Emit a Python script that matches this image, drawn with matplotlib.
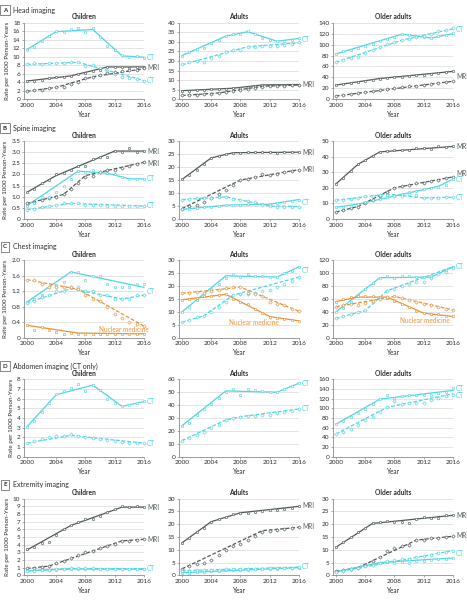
import matplotlib
matplotlib.use('Agg')
import matplotlib.pyplot as plt
import numpy as np

plt.rcParams['font.family'] = ['Lato', 'DejaVu Sans']

YEARS = list(range(2000, 2017))

# ---------------- A: Head imaging ----------------
HEAD_CH_CT_S = [11.7, 12.3, 13.8, 14.9, 16.0, 15.9, 16.5, 16.8, 15.7, 16.7, 14.6, 12.6, 11.6, 10.3, 10.0, 10.1, 9.8]
HEAD_CH_CT_S_FIT = ([2000, 2004, 2009, 2013, 2016], [11.7, 15.9, 16.4, 10.2, 9.9])
HEAD_CH_CT_D = [8.3, 8.6, 8.4, 8.5, 8.6, 8.6, 8.8, 8.8, 7.8, 8.0, 7.3, 6.6, 6.0, 5.2, 5.0, 4.8, 4.3]
HEAD_CH_CT_D_FIT = ([2000, 2007, 2016], [8.2, 8.7, 4.4])
HEAD_CH_MRI_S = [4.3, 4.3, 4.6, 4.9, 5.2, 5.3, 5.5, 5.9, 6.2, 6.7, 7.0, 7.6, 7.6, 7.6, 7.4, 7.5, 7.6]
HEAD_CH_MRI_S_FIT = ([2000, 2006, 2011, 2016], [4.3, 5.5, 7.6, 7.6])
HEAD_CH_MRI_D = [1.9, 2.1, 2.3, 2.6, 2.8, 2.9, 3.5, 4.0, 4.9, 5.3, 5.7, 6.1, 6.4, 6.7, 7.0, 7.0, 7.3]
HEAD_CH_MRI_D_FIT = ([2000, 2004, 2009, 2016], [1.9, 2.8, 5.3, 7.2])

HEAD_AD_CT_S = [22.8, 24.5, 26.5, 27.0, 29.5, 31.0, 33.3, 34.3, 34.0, 35.5, 34.0, 32.0, 31.0, 30.3, 30.5, 31.0, 32.0]
HEAD_AD_CT_S_FIT = ([2000, 2006, 2009, 2013, 2016], [22.8, 33.0, 35.3, 30.3, 31.8])
HEAD_AD_CT_D = [18.2, 19.3, 19.8, 19.5, 21.5, 22.5, 24.5, 25.5, 26.0, 27.5, 27.5, 27.8, 28.0, 28.0, 28.5, 29.0, 29.7]
HEAD_AD_CT_D_FIT = ([2000, 2009, 2016], [18.0, 27.5, 29.5])
HEAD_AD_MRI_S = [4.5, 4.5, 4.8, 5.0, 5.2, 5.3, 5.5, 5.7, 6.0, 6.5, 7.0, 7.5, 7.5, 7.5, 7.5, 7.5, 7.7]
HEAD_AD_MRI_S_FIT = ([2000, 2007, 2011, 2016], [4.5, 5.8, 7.5, 7.7])
HEAD_AD_MRI_D = [2.0, 2.2, 2.5, 2.8, 3.0, 3.2, 3.6, 4.3, 5.0, 5.5, 6.0, 6.5, 6.8, 7.0, 7.2, 7.3, 7.5]
HEAD_AD_MRI_D_FIT = ([2000, 2005, 2011, 2016], [2.0, 3.3, 6.8, 7.5])

HEAD_OA_CT_S = [83, 88, 90, 94, 98, 101, 106, 110, 113, 119, 118, 116, 113, 112, 116, 118, 121]
HEAD_OA_CT_S_FIT = ([2000, 2009, 2013, 2016], [83, 119, 112, 120])
HEAD_OA_CT_D = [68, 72, 75, 78, 85, 90, 96, 101, 104, 108, 111, 114, 116, 119, 124, 126, 130]
HEAD_OA_CT_D_FIT = ([2000, 2009, 2016], [68, 108, 129])
HEAD_OA_MRI_S = [26, 28, 30, 31, 34, 36, 38, 39, 40, 41, 43, 44, 45, 47, 48, 49, 51]
HEAD_OA_MRI_S_FIT = ([2000, 2006, 2016], [26, 38, 51])
HEAD_OA_MRI_D = [6, 7, 9, 11, 13, 15, 17, 18, 21, 22, 24, 25, 26, 28, 30, 31, 33]
HEAD_OA_MRI_D_FIT = ([2000, 2016], [6, 33])

# ---------------- B: Spine imaging ----------------
SPINE_CH_MRI_S = [1.2, 1.35, 1.6, 1.75, 2.0, 2.05, 2.2, 2.4, 2.4, 2.7, 2.8, 2.8, 3.05, 3.0, 3.2, 3.0, 3.05]
SPINE_CH_MRI_S_FIT = ([2000, 2004, 2012, 2016], [1.2, 1.95, 3.05, 3.05])
SPINE_CH_MRI_D = [0.7, 0.75, 0.85, 0.95, 1.0, 1.1, 1.35, 1.6, 1.9, 1.95, 2.1, 2.2, 2.2, 2.3, 2.4, 2.45, 2.55]
SPINE_CH_MRI_D_FIT = ([2000, 2005, 2008, 2016], [0.7, 1.1, 1.95, 2.55])
SPINE_CH_CT_S = [0.6, 0.7, 1.0, 1.0, 1.2, 1.5, 1.8, 2.15, 2.1, 2.2, 2.1, 2.05, 2.0, 1.9, 1.8, 1.8, 1.8]
SPINE_CH_CT_S_FIT = ([2000, 2007, 2011, 2014, 2016], [0.6, 2.15, 2.05, 1.8, 1.8])
SPINE_CH_CT_D = [0.42, 0.45, 0.55, 0.6, 0.62, 0.7, 0.7, 0.72, 0.65, 0.65, 0.62, 0.6, 0.6, 0.6, 0.6, 0.6, 0.58]
SPINE_CH_CT_D_FIT = ([2000, 2006, 2016], [0.42, 0.7, 0.58])

SPINE_AD_MRI_S = [15.2, 17.0, 19.0, 21.0, 23.5, 24.3, 25.0, 25.5, 25.5, 25.6, 25.6, 25.7, 25.6, 25.4, 25.6, 25.6, 25.8]
SPINE_AD_MRI_S_FIT = ([2000, 2004, 2007, 2016], [15.2, 23.5, 25.5, 25.7])
SPINE_AD_MRI_D = [4.0, 5.0, 5.5, 6.5, 8.0, 9.5, 11.0, 13.0, 15.0, 15.5, 16.2, 17.5, 16.8, 17.5, 18.0, 18.5, 19.0]
SPINE_AD_MRI_D_FIT = ([2000, 2008, 2016], [4.0, 15.0, 19.0])
SPINE_AD_CT_S = [3.7, 4.0, 4.3, 4.5, 4.8, 5.0, 5.3, 5.5, 5.5, 5.8, 6.0, 5.8, 5.7, 6.0, 6.5, 7.0, 7.5]
SPINE_AD_CT_S_FIT = ([2000, 2006, 2012, 2016], [3.7, 5.3, 5.7, 7.5])
SPINE_AD_CT_D = [7.5, 7.8, 8.0, 8.0, 8.2, 8.3, 8.5, 7.8, 7.5, 7.0, 6.5, 5.5, 5.0, 4.8, 4.8, 4.8, 4.8]
SPINE_AD_CT_D_FIT = ([2000, 2006, 2012, 2016], [7.5, 8.5, 5.0, 4.8])

SPINE_OA_MRI_S = [22.5, 26.0, 30.5, 35.0, 38.0, 40.5, 43.0, 43.5, 44.0, 44.5, 44.0, 45.5, 45.5, 45.0, 46.5, 46.0, 46.5]
SPINE_OA_MRI_S_FIT = ([2000, 2003, 2006, 2016], [22.5, 35.0, 43.0, 46.5])
SPINE_OA_MRI_D = [4.5, 5.5, 7.0, 8.0, 10.0, 12.5, 15.0, 17.0, 20.0, 21.0, 22.0, 23.0, 23.0, 24.5, 25.0, 26.0, 27.0]
SPINE_OA_MRI_D_FIT = ([2000, 2003, 2008, 2016], [4.5, 8.0, 20.0, 27.0])
SPINE_OA_CT_S = [7.5, 8.0, 8.5, 9.5, 11.0, 12.0, 13.0, 14.0, 15.0, 16.0, 17.0, 18.0, 19.0, 20.0, 20.5, 22.0, 25.5]
SPINE_OA_CT_S_FIT = ([2000, 2003, 2014, 2016], [7.5, 9.5, 21.0, 25.5])
SPINE_OA_CT_D = [12.0, 12.5, 13.0, 13.5, 14.5, 15.0, 15.5, 15.5, 15.0, 15.0, 16.0, 15.5, 13.5, 13.5, 13.5, 14.0, 14.0]
SPINE_OA_CT_D_FIT = ([2000, 2007, 2012, 2016], [12.0, 16.0, 13.5, 14.0])

# ---------------- C: Chest imaging ----------------
CHEST_CH_CT_S = [0.93, 1.0, 1.1, 1.3, 1.35, 1.45, 1.7, 1.7, 1.5, 1.6, 1.6, 1.4, 1.3, 1.3, 1.3, 1.4, 1.4]
CHEST_CH_CT_S_FIT = ([2000, 2006, 2016], [0.92, 1.7, 1.3])
CHEST_CH_CT_D = [0.9, 0.95, 1.05, 1.1, 1.2, 1.2, 1.3, 1.3, 1.2, 1.2, 1.1, 1.1, 1.0, 1.0, 1.0, 1.1, 1.1]
CHEST_CH_CT_D_FIT = ([2000, 2006, 2013, 2016], [0.9, 1.27, 1.0, 1.1])
CHEST_CH_NM_S = [0.32, 0.2, 0.28, 0.2, 0.15, 0.1, 0.12, 0.1, 0.1, 0.1, 0.1, 0.1, 0.1, 0.1, 0.1, 0.1, 0.1]
CHEST_CH_NM_S_FIT = ([2000, 2007, 2016], [0.32, 0.12, 0.1])
CHEST_CH_NM_D = [1.5, 1.5, 1.4, 1.3, 1.3, 1.3, 1.3, 1.25, 1.1, 1.0, 0.95, 0.8, 0.6, 0.5, 0.4, 0.35, 0.3]
CHEST_CH_NM_D_FIT = ([2000, 2007, 2016], [1.5, 1.25, 0.3])

CHEST_AD_CT_S = [10.0, 12.0, 14.5, 17.5, 19.0, 21.0, 23.0, 24.5, 23.5, 24.5, 24.0, 24.0, 23.5, 23.5, 25.0, 26.0, 27.5]
CHEST_AD_CT_S_FIT = ([2000, 2006, 2013, 2016], [10.0, 24.0, 23.5, 27.5])
CHEST_AD_CT_D = [6.0, 7.0, 8.0, 8.5, 10.0, 12.0, 14.0, 16.5, 17.0, 17.0, 17.5, 18.0, 18.5, 19.5, 21.0, 22.0, 23.5]
CHEST_AD_CT_D_FIT = ([2000, 2003, 2007, 2016], [6.0, 8.5, 16.5, 23.5])
CHEST_AD_NM_D = [17.2, 17.5, 17.8, 17.5, 18.0, 18.5, 19.3, 19.5, 19.6, 17.5, 17.0, 16.0, 14.0, 13.0, 12.5, 11.0, 10.2]
CHEST_AD_NM_D_FIT = ([2000, 2008, 2016], [17.2, 19.6, 10.2])
CHEST_AD_NM_S = [14.7, 15.0, 15.5, 16.0, 16.2, 16.5, 16.8, 15.0, 14.0, 13.0, 11.0, 9.5, 8.2, 7.8, 7.2, 7.0, 6.5]
CHEST_AD_NM_S_FIT = ([2000, 2006, 2012, 2016], [14.7, 16.8, 8.2, 6.5])

CHEST_OA_CT_S = [40, 46, 55, 66, 75, 85, 93, 95, 92, 95, 95, 94, 94, 95, 100, 105, 110]
CHEST_OA_CT_S_FIT = ([2000, 2006, 2013, 2016], [40, 93, 94, 110])
CHEST_OA_CT_D = [30, 33, 37, 40, 43, 55, 62, 73, 76, 80, 84, 86, 87, 93, 98, 102, 108]
CHEST_OA_CT_D_FIT = ([2000, 2004, 2007, 2016], [30, 42, 73, 110])
CHEST_OA_NM_S = [56, 60, 63, 64, 64, 64, 63, 62, 57, 52, 47, 42, 38, 37, 36, 34, 33]
CHEST_OA_NM_S_FIT = ([2000, 2003, 2007, 2012, 2016], [56, 63, 63, 38, 33])
CHEST_OA_NM_D = [48, 50, 52, 51, 54, 57, 60, 63, 65, 61, 59, 56, 52, 50, 48, 45, 43]
CHEST_OA_NM_D_FIT = ([2000, 2008, 2016], [48, 64, 43])

# ---------------- D: Abdomen imaging (CT only) ----------------
ABD_CH_CT_S = [3.1, 3.7, 4.6, 5.5, 6.5, 6.8, 7.1, 7.5, 6.8, 7.4, 6.9, 6.0, 5.6, 5.2, 5.3, 5.6, 5.8]
ABD_CH_CT_S_FIT = ([2000, 2004, 2009, 2013, 2016], [3.1, 6.4, 7.4, 5.2, 5.7])
ABD_CH_CT_D = [1.4, 1.6, 1.8, 2.0, 2.1, 2.1, 2.3, 2.1, 2.0, 1.9, 1.8, 1.7, 1.6, 1.5, 1.4, 1.4, 1.4]
ABD_CH_CT_D_FIT = ([2000, 2006, 2016], [1.4, 2.2, 1.4])

ABD_AD_CT_S = [23.5, 26.5, 32.0, 37.0, 41.0, 45.5, 50.5, 52.5, 47.5, 52.5, 51.5, 51.0, 50.5, 50.0, 52.5, 54.5, 57.0]
ABD_AD_CT_S_FIT = ([2000, 2006, 2013, 2016], [24.0, 51.0, 50.0, 57.0])
ABD_AD_CT_D = [12.5, 14.5, 17.0, 19.0, 22.0, 24.5, 28.5, 30.0, 30.5, 31.5, 31.5, 32.0, 32.0, 33.5, 34.5, 35.5, 37.0]
ABD_AD_CT_D_FIT = ([2000, 2006, 2008, 2016], [12.5, 28.5, 31.0, 37.0])

ABD_OA_CT_S = [67, 73, 82, 90, 98, 108, 119, 127, 122, 125, 127, 127, 128, 128, 131, 134, 142]
ABD_OA_CT_S_FIT = ([2000, 2006, 2016], [67, 119, 137])
ABD_OA_CT_D = [47, 52, 58, 65, 76, 83, 93, 102, 115, 109, 110, 112, 112, 118, 122, 125, 128]
ABD_OA_CT_D_FIT = ([2000, 2007, 2016], [47, 102, 130])

# ---------------- E: Extremity imaging ----------------
EXT_CH_MRI_S = [3.4, 3.7, 4.2, 4.4, 5.2, 6.0, 6.6, 6.9, 7.3, 7.4, 7.7, 8.2, 8.7, 9.0, 8.9, 9.0, 8.9]
EXT_CH_MRI_S_FIT = ([2000, 2006, 2013, 2016], [3.3, 6.5, 8.9, 8.9])
EXT_CH_MRI_D = [0.9, 1.0, 1.1, 1.2, 1.6, 1.9, 2.3, 2.7, 3.0, 3.2, 3.5, 3.8, 4.1, 4.5, 4.5, 4.6, 4.7]
EXT_CH_MRI_D_FIT = ([2000, 2003, 2013, 2016], [0.9, 1.2, 4.5, 4.7])
EXT_CH_CT_S = [0.6, 0.65, 0.7, 0.7, 0.75, 0.8, 0.85, 0.85, 0.8, 0.8, 0.8, 0.8, 0.8, 0.8, 0.8, 0.8, 0.8]
EXT_CH_CT_S_FIT = ([2000, 2006, 2016], [0.6, 0.82, 0.8])
EXT_CH_CT_D = [0.55, 0.6, 0.65, 0.75, 0.8, 0.85, 0.9, 0.9, 0.9, 0.9, 0.85, 0.85, 0.85, 0.85, 0.85, 0.85, 0.85]
EXT_CH_CT_D_FIT = ([2000, 2006, 2016], [0.55, 0.9, 0.85])

EXT_AD_MRI_S = [12.7, 14.5, 17.0, 18.5, 21.0, 22.0, 23.0, 24.2, 24.5, 24.5, 24.8, 25.2, 25.5, 25.5, 25.8, 26.5, 27.2]
EXT_AD_MRI_S_FIT = ([2000, 2004, 2008, 2016], [12.7, 21.0, 24.5, 27.0])
EXT_AD_MRI_D = [2.5, 3.5, 4.5, 4.8, 6.0, 8.0, 10.0, 11.5, 12.2, 13.8, 15.5, 17.0, 17.5, 17.8, 18.0, 18.5, 18.8]
EXT_AD_MRI_D_FIT = ([2000, 2011, 2016], [2.5, 17.5, 18.8])
EXT_AD_CT_S = [1.0, 1.0, 1.2, 1.4, 1.5, 1.7, 1.9, 2.0, 2.1, 2.2, 2.3, 2.4, 2.5, 2.6, 2.7, 2.8, 3.0]
EXT_AD_CT_S_FIT = ([2000, 2016], [1.0, 3.0])
EXT_AD_CT_D = [1.8, 1.8, 1.9, 2.0, 2.1, 2.2, 2.3, 2.4, 2.4, 2.5, 2.6, 2.6, 2.7, 2.8, 2.9, 3.0, 3.2]
EXT_AD_CT_D_FIT = ([2000, 2016], [1.8, 3.2])

EXT_OA_MRI_S = [11.0, 13.0, 15.0, 17.0, 18.5, 20.3, 20.8, 21.2, 21.0, 21.0, 20.5, 22.0, 23.0, 22.5, 22.5, 23.5, 23.8]
EXT_OA_MRI_S_FIT = ([2000, 2005, 2016], [11.0, 20.3, 23.5])
EXT_OA_MRI_D = [1.5, 2.0, 2.5, 3.0, 4.0, 5.5, 7.0, 9.5, 10.5, 11.5, 12.0, 13.8, 14.0, 14.5, 14.8, 15.0, 15.3]
EXT_OA_MRI_D_FIT = ([2000, 2003, 2011, 2016], [1.5, 3.0, 13.8, 15.3])
EXT_OA_CT_D = [1.2, 1.8, 2.5, 3.0, 3.5, 4.2, 5.0, 5.5, 5.8, 6.2, 6.5, 7.0, 7.5, 8.0, 8.8, 9.2, 9.7]
EXT_OA_CT_D_FIT = ([2000, 2016], [1.2, 9.7])
EXT_OA_CT_S = [1.3, 2.0, 2.5, 3.0, 3.8, 4.3, 5.0, 5.2, 5.0, 5.2, 5.0, 5.5, 5.5, 5.8, 6.2, 6.5, 6.8]
EXT_OA_CT_S_FIT = ([2000, 2006, 2016], [1.3, 5.0, 6.8])

ROW_TITLES = ['Head imaging', 'Spine imaging', 'Chest imaging',
              'Abdomen imaging (CT only)', 'Extremity imaging']
ROW_LETTERS = ['A', 'B', 'C', 'D', 'E']
COL_TITLES = ['Children', 'Adults', 'Older adults']

COLORS = {'CT': '#4fd5e3', 'MRI': '#4f5b59', 'NM': '#e8923a'}

# panel config: (row, col, ymax, ystep, decimals, series, end labels, nuclear label pos)
PANELS = [
    (0, 0, 18, 2, 0,
     [(HEAD_CH_CT_S, HEAD_CH_CT_S_FIT, 'CT', '-'), (HEAD_CH_CT_D, HEAD_CH_CT_D_FIT, 'CT', '--'),
      (HEAD_CH_MRI_S, HEAD_CH_MRI_S_FIT, 'MRI', '-'), (HEAD_CH_MRI_D, HEAD_CH_MRI_D_FIT, 'MRI', '--')],
     [('CT', 9.9, 'CT'), ('MRI', 7.4, 'MRI'), ('CT', 4.4, 'CT')], None),
    (0, 1, 40, 5, 0,
     [(HEAD_AD_CT_S, HEAD_AD_CT_S_FIT, 'CT', '-'), (HEAD_AD_CT_D, HEAD_AD_CT_D_FIT, 'CT', '--'),
      (HEAD_AD_MRI_S, HEAD_AD_MRI_S_FIT, 'MRI', '-'), (HEAD_AD_MRI_D, HEAD_AD_MRI_D_FIT, 'MRI', '--')],
     [('CT', 31.0, 'CT'), ('MRI', 7.8, 'MRI')], None),
    (0, 2, 140, 20, 0,
     [(HEAD_OA_CT_S, HEAD_OA_CT_S_FIT, 'CT', '-'), (HEAD_OA_CT_D, HEAD_OA_CT_D_FIT, 'CT', '--'),
      (HEAD_OA_MRI_S, HEAD_OA_MRI_S_FIT, 'MRI', '-'), (HEAD_OA_MRI_D, HEAD_OA_MRI_D_FIT, 'MRI', '--')],
     [('CT', 128, 'CT'), ('MRI', 41, 'MRI')], None),
    (1, 0, 3.5, 0.5, 1,
     [(SPINE_CH_MRI_S, SPINE_CH_MRI_S_FIT, 'MRI', '-'), (SPINE_CH_MRI_D, SPINE_CH_MRI_D_FIT, 'MRI', '--'),
      (SPINE_CH_CT_S, SPINE_CH_CT_S_FIT, 'CT', '-'), (SPINE_CH_CT_D, SPINE_CH_CT_D_FIT, 'CT', '--')],
     [('MRI', 3.05, 'MRI'), ('MRI', 2.5, 'MRI'), ('CT', 1.8, 'CT'), ('CT', 0.6, 'CT')], None),
    (1, 1, 30, 5, 0,
     [(SPINE_AD_MRI_S, SPINE_AD_MRI_S_FIT, 'MRI', '-'), (SPINE_AD_MRI_D, SPINE_AD_MRI_D_FIT, 'MRI', '--'),
      (SPINE_AD_CT_S, SPINE_AD_CT_S_FIT, 'CT', '-'), (SPINE_AD_CT_D, SPINE_AD_CT_D_FIT, 'CT', '--')],
     [('MRI', 25.7, 'MRI'), ('MRI', 19.0, 'MRI'), ('CT', 6.2, 'CT')], None),
    (1, 2, 50, 10, 0,
     [(SPINE_OA_MRI_S, SPINE_OA_MRI_S_FIT, 'MRI', '-'), (SPINE_OA_MRI_D, SPINE_OA_MRI_D_FIT, 'MRI', '--'),
      (SPINE_OA_CT_S, SPINE_OA_CT_S_FIT, 'CT', '-'), (SPINE_OA_CT_D, SPINE_OA_CT_D_FIT, 'CT', '--')],
     [('MRI', 46.5, 'MRI'), ('MRI', 29.0, 'MRI'), ('CT', 25.0, 'CT'), ('CT', 14.0, 'CT')], None),
    (2, 0, 2.0, 0.4, 1,
     [(CHEST_CH_CT_S, CHEST_CH_CT_S_FIT, 'CT', '-'), (CHEST_CH_CT_D, CHEST_CH_CT_D_FIT, 'CT', '--'),
      (CHEST_CH_NM_S, CHEST_CH_NM_S_FIT, 'NM', '-'), (CHEST_CH_NM_D, CHEST_CH_NM_D_FIT, 'NM', '--')],
     [('CT', 1.2, 'CT')], (2009.8, 0.22)),
    (2, 1, 30, 5, 0,
     [(CHEST_AD_CT_S, CHEST_AD_CT_S_FIT, 'CT', '-'), (CHEST_AD_CT_D, CHEST_AD_CT_D_FIT, 'CT', '--'),
      (CHEST_AD_NM_S, CHEST_AD_NM_S_FIT, 'NM', '-'), (CHEST_AD_NM_D, CHEST_AD_NM_D_FIT, 'NM', '--')],
     [('CT', 26.0, 'CT')], (2006.5, 6.0)),
    (2, 2, 120, 20, 0,
     [(CHEST_OA_CT_S, CHEST_OA_CT_S_FIT, 'CT', '-'), (CHEST_OA_CT_D, CHEST_OA_CT_D_FIT, 'CT', '--'),
      (CHEST_OA_NM_S, CHEST_OA_NM_S_FIT, 'NM', '-'), (CHEST_OA_NM_D, CHEST_OA_NM_D_FIT, 'NM', '--')],
     [('CT', 110, 'CT')], (2008.7, 27)),
    (3, 0, 8, 1, 0,
     [(ABD_CH_CT_S, ABD_CH_CT_S_FIT, 'CT', '-'), (ABD_CH_CT_D, ABD_CH_CT_D_FIT, 'CT', '--')],
     [('CT', 5.7, 'CT'), ('CT', 1.4, 'CT')], None),
    (3, 1, 60, 10, 0,
     [(ABD_AD_CT_S, ABD_AD_CT_S_FIT, 'CT', '-'), (ABD_AD_CT_D, ABD_AD_CT_D_FIT, 'CT', '--')],
     [('CT', 57.0, 'CT'), ('CT', 37.0, 'CT')], None),
    (3, 2, 160, 20, 0,
     [(ABD_OA_CT_S, ABD_OA_CT_S_FIT, 'CT', '-'), (ABD_OA_CT_D, ABD_OA_CT_D_FIT, 'CT', '--')],
     [('CT', 142, 'CT'), ('CT', 126, 'CT')], None),
    (4, 0, 10, 1, 0,
     [(EXT_CH_MRI_S, EXT_CH_MRI_S_FIT, 'MRI', '-'), (EXT_CH_MRI_D, EXT_CH_MRI_D_FIT, 'MRI', '--'),
      (EXT_CH_CT_S, EXT_CH_CT_S_FIT, 'CT', '-'), (EXT_CH_CT_D, EXT_CH_CT_D_FIT, 'CT', '--')],
     [('MRI', 8.9, 'MRI'), ('MRI', 4.7, 'MRI'), ('CT', 0.9, 'CT')], None),
    (4, 1, 30, 5, 0,
     [(EXT_AD_MRI_S, EXT_AD_MRI_S_FIT, 'MRI', '-'), (EXT_AD_MRI_D, EXT_AD_MRI_D_FIT, 'MRI', '--'),
      (EXT_AD_CT_S, EXT_AD_CT_S_FIT, 'CT', '-'), (EXT_AD_CT_D, EXT_AD_CT_D_FIT, 'CT', '--')],
     [('MRI', 27.2, 'MRI'), ('MRI', 19.0, 'MRI'), ('CT', 3.4, 'CT')], None),
    (4, 2, 30, 5, 0,
     [(EXT_OA_MRI_S, EXT_OA_MRI_S_FIT, 'MRI', '-'), (EXT_OA_MRI_D, EXT_OA_MRI_D_FIT, 'MRI', '--'),
      (EXT_OA_CT_S, EXT_OA_CT_S_FIT, 'CT', '-'), (EXT_OA_CT_D, EXT_OA_CT_D_FIT, 'CT', '--')],
     [('MRI', 23.6, 'MRI'), ('MRI', 15.5, 'MRI'), ('CT', 8.6, 'CT')], None),
]

W, H = 467, 600
fig = plt.figure(figsize=(W / 100, H / 100), dpi=100)

COL_LEFT_PX = [24, 179, 333]
AX_W_PX = 120
ROW_TOP_PX = [22.7, 141, 260.3, 379.3, 498.7]
ROW_BOT_PX = [99.3, 219, 337.7, 456.7, 575.3]
LABEL_Y_PX = [10, 128, 247, 366, 485]

GRID_C = '#d9d9d9'
SPINE_C = '#8a8a8a'
TXT_C = '#2b2b2b'

for r in range(5):
    fig.text(5 / W, 1 - LABEL_Y_PX[r] / H, ROW_LETTERS[r], fontsize=4.4, fontweight='bold',
             color=TXT_C, ha='center', va='center',
             bbox=dict(boxstyle='square,pad=0.4', fc='white', ec='#555555', lw=0.5))
    fig.text(13 / W, 1 - LABEL_Y_PX[r] / H, ROW_TITLES[r], fontsize=5.0, color=TXT_C,
             ha='left', va='center')

for (r, c, ymax, ystep, dec, series, labels, nm_pos) in PANELS:
    left = COL_LEFT_PX[c] / W
    bottom = 1 - ROW_BOT_PX[r] / H
    height = (ROW_BOT_PX[r] - ROW_TOP_PX[r]) / H
    ax = fig.add_axes([left, bottom, AX_W_PX / W, height])
    ax.set_xlim(1999.6, 2016)
    ax.set_ylim(0, ymax)
    yt = np.arange(0, ymax + ystep / 2, ystep)
    ax.set_yticks(yt)
    if dec:
        ax.set_yticklabels(['0' if v == 0 else f'{v:.{dec}f}' for v in yt])
    ax.set_xticks([2000, 2004, 2008, 2012, 2016])
    ax.grid(axis='y', color=GRID_C, lw=0.5)
    ax.set_axisbelow(True)
    for s in ['top', 'right']:
        ax.spines[s].set_visible(False)
    for s in ['left', 'bottom']:
        ax.spines[s].set_color(SPINE_C)
        ax.spines[s].set_linewidth(0.6)
    ax.tick_params(labelsize=4.6, length=1.5, width=0.5, pad=1.2, labelcolor=TXT_C,
                   color=SPINE_C)
    ax.set_title(COL_TITLES[c], fontsize=4.8, fontweight='bold', color=TXT_C, pad=2.5)
    ax.set_xlabel('Year', fontsize=4.7, color=TXT_C, labelpad=2)
    if c == 0:
        ax.set_ylabel('Rate per 1000 Person-Years', fontsize=4.5, color=TXT_C, labelpad=2)

    for obs, fit, mod, ls in series:
        col = COLORS[mod]
        mk = 'o' if ls == '-' else 'D'
        ax.plot(fit[0], fit[1], color=col, lw=0.9, ls=ls,
                dashes=(3, 1.5) if ls == '--' else (None, None), clip_on=False)
        ax.plot(YEARS, obs, ls='none', marker=mk, ms=1.7, mew=0.45,
                mfc='white', mec=col, clip_on=False, zorder=3)

    for text, yv, mod in labels:
        ax.text(2016.4, yv, text, fontsize=4.7, color=COLORS[mod], ha='left', va='center',
                clip_on=False)
    if nm_pos is not None:
        ax.text(nm_pos[0], nm_pos[1], 'Nuclear medicine', fontsize=4.7, color=COLORS['NM'],
                ha='left', va='center')

fig.savefig('out.png', dpi=100)
